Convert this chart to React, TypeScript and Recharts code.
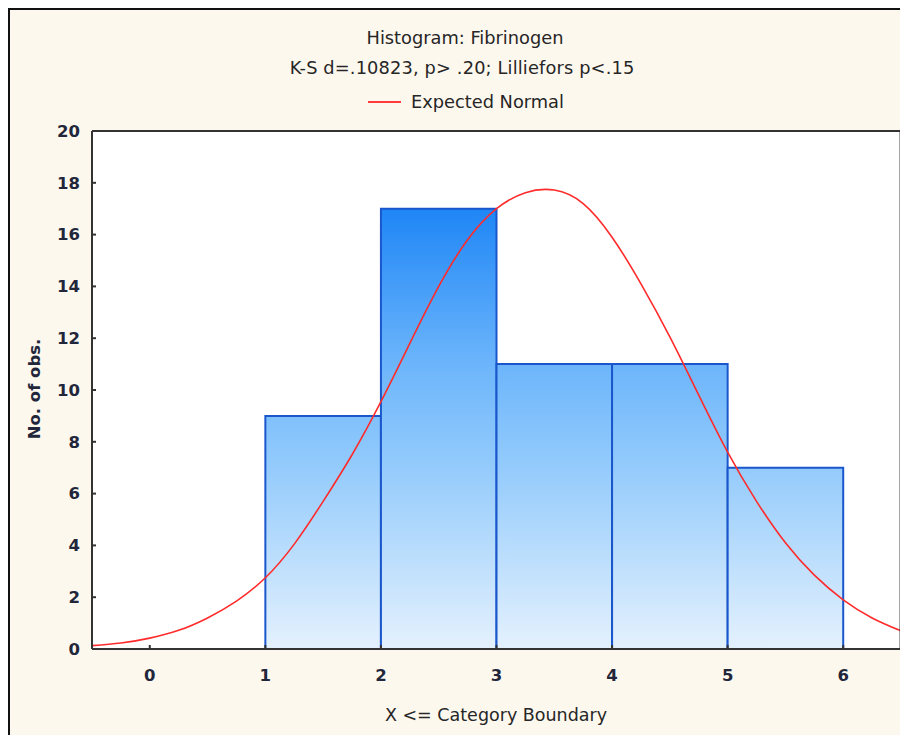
import React from 'react';
import {
  ComposedChart,
  Line,
  XAxis,
  YAxis,
  CartesianGrid,
  ReferenceArea,
  ReferenceLine,
} from 'recharts';

// ---------- data ----------
const binLower = [1, 2, 3, 4, 5];
const binUpper = [2, 3, 4, 5, 6];
const binCounts = [9, 17, 11, 11, 7];

const curveX = [
  -0.5, -0.25, 0, 0.25, 0.5, 0.75, 1, 1.25, 1.5, 1.75, 2, 2.25, 2.5, 2.75, 3,
  3.25, 3.5, 3.75, 4, 4.25, 4.5, 4.75, 5, 5.25, 5.5, 5.75, 6, 6.25, 6.5,
];
const curveY = [
  0.13, 0.23, 0.42, 0.72, 1.2, 1.85, 2.75, 4.05, 5.7, 7.5, 9.55, 11.8, 14.0,
  15.8, 17.0, 17.62, 17.72, 17.2, 15.9, 14.1, 12.05, 9.8, 7.6, 5.7, 4.1, 2.85,
  1.9, 1.2, 0.7,
];

const xTicks = [0, 1, 2, 3, 4, 5, 6];
const yTicks = [0, 2, 4, 6, 8, 10, 12, 14, 16, 18, 20];
const xDomain = [-0.5, 6.5];
const yDomain = [0, 20];

const titleText = 'Histogram: Fibrinogen';
const subtitleText = 'K-S d=.10823, p> .20; Lilliefors p<.15';
const legendText = 'Expected Normal';
const xLabel = 'X <= Category Boundary';
const yLabel = 'No. of obs.';

// ---------- layout / style ----------
const CHART_W = 898;
const CHART_H = 725;
const TOP_AXIS_H = 1;
const M_TOP = 121 - TOP_AXIS_H;
const Y_AXIS_W = 82;
const X_AXIS_H = 86;
const RIGHT_AXIS_W = 7;
const PLOT_TOP = 121;
const PLOT_BOTTOM = CHART_H - X_AXIS_H;

const FONT = '"DejaVu Sans", Verdana, sans-serif';
const TEXT_COLOR = '#262626';
const AXIS_COLOR = '#333333';

const curveData = curveX.map((x, i) => ({ x, y: curveY[i] }));

const tickStyle = {
  fill: '#22263a',
  fontSize: 16.5,
  fontWeight: 700,
  fontFamily: FONT,
};

export default function App() {
  return (
    <div
      style={{
        position: 'relative',
        width: 900,
        height: 727,
        boxSizing: 'border-box',
        borderLeft: '2px solid #111',
        borderTop: '2px solid #111',
        background: '#fdf8ee',
        fontFamily: FONT,
        color: TEXT_COLOR,
      }}
    >
      <div style={{ position: 'absolute', left: 0, top: 0 }}>
        <ComposedChart
          width={CHART_W}
          height={CHART_H}
          data={curveData}
          margin={{ top: M_TOP, right: 0, bottom: 0, left: 0 }}
        >
          <defs>
            <linearGradient
              id="barGrad"
              gradientUnits="userSpaceOnUse"
              x1={0}
              y1={PLOT_TOP}
              x2={0}
              y2={PLOT_BOTTOM}
            >
              <stop offset="0" stopColor="#0b78f2" />
              <stop offset="0.15" stopColor="#1f86f6" />
              <stop offset="0.45" stopColor="#6cb5fb" />
              <stop offset="0.65" stopColor="#94cbfc" />
              <stop offset="1" stopColor="#e4f1fd" />
            </linearGradient>
          </defs>
          <rect
            x={Y_AXIS_W}
            y={PLOT_TOP}
            width={CHART_W - Y_AXIS_W - RIGHT_AXIS_W}
            height={PLOT_BOTTOM - PLOT_TOP}
            fill="#ffffff"
          />
          <CartesianGrid
            vertical={false}
            stroke="#d9d9d9"
            strokeWidth={2}
            fill="#ffffff"
          />
          <XAxis
            dataKey="x"
            type="number"
            domain={xDomain}
            ticks={xTicks}
            allowDataOverflow
            height={X_AXIS_H}
            axisLine={{ stroke: AXIS_COLOR, strokeWidth: 2 }}
            tickLine={{ stroke: AXIS_COLOR, strokeWidth: 2 }}
            tickSize={-4}
            tickMargin={24}
            tick={tickStyle}
          />
          <XAxis
            xAxisId="top"
            dataKey="x"
            type="number"
            orientation="top"
            height={TOP_AXIS_H}
            domain={xDomain}
            ticks={xTicks}
            allowDataOverflow
            axisLine={{ stroke: AXIS_COLOR, strokeWidth: 2 }}
            tickLine={{ stroke: AXIS_COLOR, strokeWidth: 2 }}
            tickSize={-4}
            tick={false}
          />
          <YAxis
            type="number"
            domain={yDomain}
            ticks={yTicks}
            allowDataOverflow
            width={Y_AXIS_W}
            axisLine={{ stroke: AXIS_COLOR, strokeWidth: 2 }}
            tickLine={{ stroke: AXIS_COLOR, strokeWidth: 2 }}
            tickSize={-4}
            tickMargin={16}
            tick={tickStyle}
          />
          <YAxis
            yAxisId="right"
            type="number"
            orientation="right"
            width={RIGHT_AXIS_W}
            domain={yDomain}
            ticks={yTicks}
            allowDataOverflow
            axisLine={{ stroke: AXIS_COLOR, strokeWidth: 2.5 }}
            tickLine={{ stroke: AXIS_COLOR, strokeWidth: 2 }}
            tickSize={-4}
            tick={false}
          />
          {binCounts.map((c, i) => (
            <ReferenceArea
              key={i}
              x1={binLower[i]}
              x2={binUpper[i]}
              y1={0}
              y2={c}
              fill="url(#barGrad)"
              fillOpacity={1}
              stroke="#1a57cc"
              strokeWidth={2}
              strokeOpacity={1}
            />
          ))}
          <Line
            dataKey="y"
            type="natural"
            stroke="#ff2b2b"
            strokeWidth={1.6}
            dot={false}
            activeDot={false}
            isAnimationActive={false}
          />
          <ReferenceLine y={yDomain[1]} stroke={AXIS_COLOR} strokeWidth={2} />
          <ReferenceLine x={xDomain[1]} stroke={AXIS_COLOR} strokeWidth={2.5} />
        </ComposedChart>
      </div>

      {/* titles */}
      <div
        style={{
          position: 'absolute',
          left: 155,
          top: 18,
          width: 600,
          textAlign: 'center',
          fontSize: 17.8,
          lineHeight: '20px',
          whiteSpace: 'nowrap',
        }}
      >
        {titleText}
      </div>
      <div
        style={{
          position: 'absolute',
          left: 152,
          top: 48,
          width: 600,
          textAlign: 'center',
          fontSize: 17.8,
          lineHeight: '20px',
          letterSpacing: 0.15,
          whiteSpace: 'nowrap',
        }}
      >
        {subtitleText}
      </div>
      {/* legend */}
      <div
        style={{
          position: 'absolute',
          left: 358,
          top: 82,
          height: 20,
          display: 'flex',
          alignItems: 'center',
          fontSize: 17.8,
          lineHeight: '20px',
          whiteSpace: 'nowrap',
        }}
      >
        <span
          style={{
            display: 'inline-block',
            width: 33,
            height: 2,
            background: '#ff3b3b',
            marginRight: 10,
          }}
        />
        <span>{legendText}</span>
      </div>
      {/* x label */}
      <div
        style={{
          position: 'absolute',
          left: 186,
          top: 695,
          width: 600,
          textAlign: 'center',
          fontSize: 17.5,
          lineHeight: '20px',
          whiteSpace: 'nowrap',
        }}
      >
        {xLabel}
      </div>
      {/* y label */}
      <div
        style={{
          position: 'absolute',
          left: 25 - 100,
          top: 379 - 10,
          width: 200,
          textAlign: 'center',
          fontSize: 16.5,
          fontWeight: 700,
          lineHeight: '20px',
          transform: 'rotate(-90deg)',
          color: '#22263a',
          whiteSpace: 'nowrap',
        }}
      >
        {yLabel}
      </div>
    </div>
  );
}
